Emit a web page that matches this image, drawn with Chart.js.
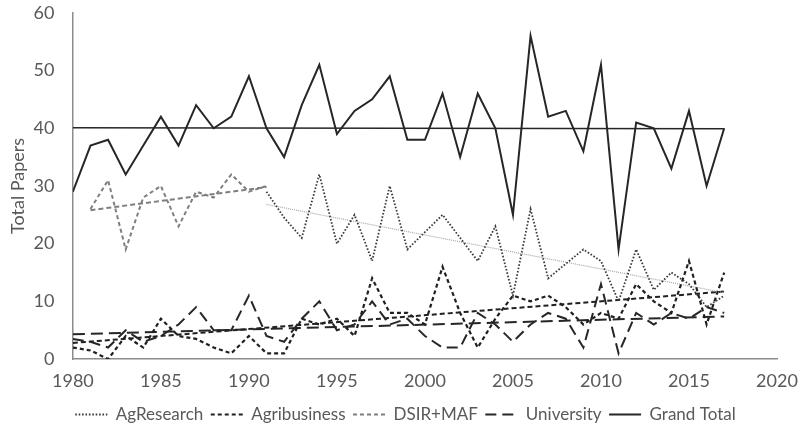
<!DOCTYPE html>
<html>
<head>
<meta charset="utf-8">
<script src="https://cdn.jsdelivr.net/npm/chart.js@4.4.0/dist/chart.umd.min.js"></script>
<style>
  html, body { margin: 0; padding: 0; background: #fff; }
  #wrap { width: 810px; height: 433px; }
</style>
</head>
<body>
<div id="wrap"><canvas id="myChart" width="810" height="433"></canvas></div>
<script>
// years and values
var years = [1980,1981,1982,1983,1984,1985,1986,1987,1988,1989,1990,1991,1992,1993,1994,1995,1996,1997,1998,1999,
             2000,2001,2002,2003,2004,2005,2006,2007,2008,2009,2010,2011,2012,2013,2014,2015,2016,2017];
var grand_total = [29,37,38,32,37,42,37,44,40,42,49,40,35,44,51,39,43,45,49,38,
                   38,46,35,46,40,25,56,42,43,36,51,19,41,40,33,43,30,40];
var agri_business = [2,1.5,0,4,2,7,4,3.5,2,1,4,1,1,7,6,7,4,14,8,8,
                     6,16,8,2,7,11,10,11,9,6,8,7,13,10,8,17,6,15];
var university = [3.5,3,2,5,3,4,6,9,5,5,11,4,3,7,10,5,6,10,6,7,
                  4,2,2,8,6,3,6,8,7,2,13,1,8,6,8,7,9,8];
// AgResearch 1991-2017
var agr_years = [1991,1992,1993,1994,1995,1996,1997,1998,1999,2000,2001,2002,2003,2004,2005,2006,2007,2008,2009,2010,
                 2011,2012,2013,2014,2015,2016,2017];
var ag_research = [29,24.5,21,32,20,25,17,30,19,22,25,21,17,23,11,26,14,16.5,19,17,10,19,12,15,13,9,11];
// DSIR+MAF 1981-1991
var dsir_years = [1981,1982,1983,1984,1985,1986,1987,1988,1989,1990,1991];
var dsir_maf = [26,31,19,28,30,23,29,28,32,29,30];

// linear trend lines: [start year, end year], [start value, end value]
var trend_gt_x = [1980, 2017],  trend_gt_y = [40.1, 39.9];
var trend_agr_x = [1991, 2017], trend_agr_y = [26.8, 11.5];
var trend_dsir_x = [1981, 1991], trend_dsir_y = [25.8, 29.8];
var trend_ab_x = [1980, 2017],  trend_ab_y = [2.8, 11.7];
var trend_uni_x = [1980, 2017], trend_uni_y = [4.3, 7.4];

var x_ticks = [1980,1985,1990,1995,2000,2005,2010,2015,2020];

function pts(xs, ys) {
    return xs.map(function (x, i) { return {x: x, y: ys[i]}; });
}

// legend box spans the whole width minus paddings, nudge it so it sits centred on the page
var legendShift = {
    id: 'legendShift',
    afterLayout: function (chart) {
        if (chart.legend) {
            chart.legend.left += 15;
            chart.legend.right += 15;
        }
    }
};

var txt = '#595959';
var fnt = 'Lato';
var ctx = document.getElementById('myChart');
var mychart = new Chart(ctx, {
    type: 'line',
    data: {
        datasets: [
            // series
            { label: 'AgResearch', data: pts(agr_years, ag_research), borderColor: '#3a3a3a', borderWidth: 1.8, borderDash: [1.6, 1.8] },
            { label: 'Agribusiness', data: pts(years, agri_business), borderColor: '#202020', borderWidth: 2.2, borderDash: [4, 3] },
            { label: 'DSIR+MAF', data: pts(dsir_years, dsir_maf), borderColor: '#7f7f7f', borderWidth: 2, borderDash: [4, 3] },
            { label: 'University', data: pts(years, university), borderColor: '#262626', borderWidth: 2, borderDash: [11, 6] },
            { label: 'Grand Total', data: pts(years, grand_total), borderColor: '#262626', borderWidth: 2 },
            // trend lines
            { label: 'trend', data: pts(trend_gt_x, trend_gt_y), borderColor: '#262626', borderWidth: 1.5 },
            { label: 'trend', data: pts(trend_agr_x, trend_agr_y), borderColor: '#a6a6a6', borderWidth: 1.2, borderDash: [1, 1] },
            { label: 'trend', data: pts(trend_dsir_x, trend_dsir_y), borderColor: '#7f7f7f', borderWidth: 2, borderDash: [5, 3] },
            { label: 'trend', data: pts(trend_ab_x, trend_ab_y), borderColor: '#202020', borderWidth: 2, borderDash: [5, 3] },
            { label: 'trend', data: pts(trend_uni_x, trend_uni_y), borderColor: '#262626', borderWidth: 2, borderDash: [12, 6] }
        ]
    },
    plugins: [legendShift],
    options: {
        responsive: false,
        animation: false,
        devicePixelRatio: 1,
        layout: { padding: { left: 4, right: 33, top: 0, bottom: 0 } },
        elements: {
            point: { radius: 0 },
            line: { tension: 0, fill: false }
        },
        scales: {
            x: {
                type: 'linear',
                min: 1980,
                max: 2020,
                afterBuildTicks: function (axis) {
                    axis.ticks = x_ticks.map(function (v) { return {value: v}; });
                },
                // tick marks are not drawn (grid hidden), tickLength only spaces the labels
                grid: { display: false, drawTicks: true, tickLength: 4.6 },
                border: { display: true, color: '#8c8c8c', width: 1.5 },
                ticks: {
                    color: txt,
                    font: { family: fnt, size: 18 },
                    padding: 6.6,
                    maxRotation: 0,
                    callback: function (v) { return String(v); }
                }
            },
            y: {
                min: 0,
                max: 60,
                grid: { display: false, drawTicks: true, tickLength: 16.4 },
                border: { display: true, color: '#8c8c8c', width: 1.5 },
                ticks: {
                    stepSize: 10,
                    color: txt,
                    font: { family: fnt, size: 18 },
                    padding: 2
                },
                title: {
                    display: true,
                    text: 'Total Papers',
                    color: txt,
                    font: { family: fnt, size: 18 },
                    padding: 3
                }
            }
        },
        plugins: {
            legend: {
                position: 'bottom',
                labels: {
                    usePointStyle: true,
                    pointStyle: 'line',
                    pointStyleWidth: 32,
                    color: txt,
                    font: { family: fnt, size: 17 },
                    padding: 7.5,
                    generateLabels: function (chart) {
                        var items = Chart.defaults.plugins.legend.labels.generateLabels(chart);
                        items.forEach(function (it) {
                            var ds = chart.data.datasets[it.datasetIndex];
                            it.lineDash = ds.borderDash || [];
                            it.lineWidth = ds.borderWidth;
                            it.strokeStyle = ds.borderColor;
                        });
                        return items.filter(function (it) { return it.text !== 'trend'; });
                    }
                }
            },
            tooltip: { enabled: false }
        }
    }
});
</script>
</body>
</html>
